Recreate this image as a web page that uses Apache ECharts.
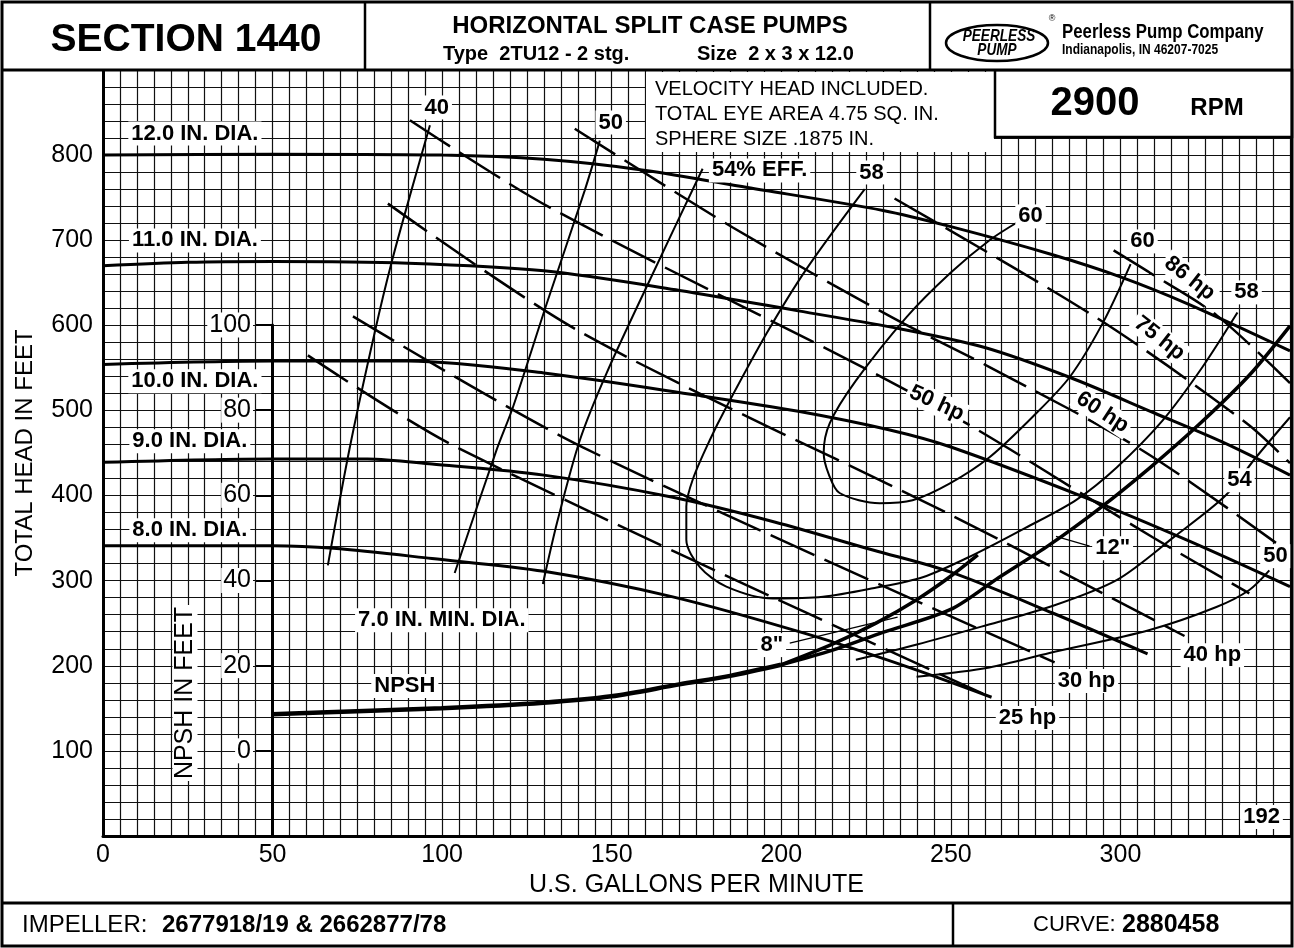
<!DOCTYPE html>
<html>
<head>
<meta charset="utf-8">
<script src="https://cdn.jsdelivr.net/npm/echarts@6/dist/echarts.min.js"></script>
<style>
  html, body { margin: 0; padding: 0; background: #fff; }
  #chart { width: 1294px; height: 948px; }
</style>
</head>
<body>
<div id="chart"></div>
<script>
const FONT = '"Liberation Sans", Arial, sans-serif'

// head-capacity curves per impeller diameter, [gpm, ft]
const dia12 = [[0, 800], [50, 801], [100, 800], [130, 795], [160, 782], [190, 762], [230, 735], [250, 716], [280, 683], [300, 657], [320, 625], [350, 570]]
const dia11 = [[0, 670], [25, 674], [50, 675], [90, 673], [130, 664], [170, 641], [205, 617], [235, 596], [260, 574], [285, 539], [310, 497], [330, 463], [350, 424]]
const dia10 = [[0, 554], [50, 558], [90, 558], [130, 544], [175, 518], [205, 499], [232, 477], [250, 457], [290, 397], [320, 347], [350, 293]]
const dia9 = [[0, 439], [50, 443], [78, 443], [97, 437], [130, 424], [168, 398], [198, 369], [227, 336], [250, 310], [280, 262], [308, 214]]
const dia8 = [[0, 341], [50, 341], [68, 338], [97, 326], [130, 311], [168, 281], [207, 238], [237, 199], [262, 163]]

// efficiency contours, [gpm, ft]
const eff40 = [[66.3, 318], [72.8, 457], [80.2, 593], [85.1, 674], [90.9, 758], [96.4, 835]]
const eff50 = [[103.7, 309], [116, 453], [120.9, 504], [130.8, 625], [142, 758], [146.5, 817]]
const eff54 = [[129.7, 296], [134, 370], [140.6, 465], [148.4, 543], [161.2, 653], [176.8, 784]]
const eff58 = [[224.6, 760], [207.4, 666], [195.6, 590], [183.8, 504], [178.9, 465], [174, 420], [172, 387], [172, 348], [176, 316], [183.8, 293], [197.5, 279], [212.3, 281], [227, 291], [241.7, 304], [256.5, 330], [272, 362], [287, 395], [298.9, 433], [312.4, 488], [324.2, 551], [334.5, 615]]
const eff60 = [[270, 722], [261.4, 700], [250, 662], [237, 610], [222, 535], [214.3, 485], [212.5, 450], [214, 425], [217.2, 403], [229, 391], [238.7, 394.5], [249.6, 414], [261.4, 445], [274, 492], [285, 539], [294.7, 602], [303, 672]]
const eff54r = [[222, 207], [240, 225], [259, 246], [279, 269], [299, 301], [316, 352], [331, 400], [340, 445], [350, 492]]
const eff50r = [[239.9, 187], [261.4, 198], [279.1, 215], [308.6, 242], [328.3, 269], [338, 289], [343.9, 312]]

// brake horsepower lines, [gpm, ft]
const hp86 = [[298, 688], [308.6, 662], [328.3, 612], [350, 532]]
const hp75 = [[233.4, 749], [293.3, 608], [337.2, 485], [350, 438]]
const hp60 = [[139.1, 831], [185.7, 715], [232.8, 609], [261.4, 551], [306.5, 453], [346, 344]]
const hp50 = [[90.5, 841], [131.7, 738.5], [245.2, 506], [309.5, 351], [338, 285]]
const hp40 = [[84, 743], [141.5, 590.6], [249.6, 378], [318.9, 235]]
const hp30 = [[73.7, 610.5], [141.5, 456.7], [280.6, 204]]
const hp25 = [[60.4, 564.7], [104.3, 456.7], [262.3, 162]]

// NPSH required, [gpm, NPSH ft]
const npsh = [[50, 8.6], [75, 9.3], [100, 10], [130, 11.3], [150, 12.8], [170, 15.6], [185, 17.6], [200, 20.2]]
const npsh8 = [[200, 20.2], [215, 25], [228, 30], [240, 35.5], [250, 41], [258, 46]]
const npsh12 = [[200, 20.2], [215, 23.6], [230, 27.8], [250, 33.2], [264, 40.6], [279, 48.3], [294, 57], [308.6, 66.4], [323, 76.5], [338, 88.2], [350, 99.8]]

// leader lines for the 8" / 12" NPSH tags, [gpm, ft]
const lead8 = [[202.5, 226.6], [234.3, 257.1]]
const lead12 = [[290.9, 340.5], [281, 352]]

const xTicks = [0, 50, 100, 150, 200, 250, 300]
const yTicks = [100, 200, 300, 400, 500, 600, 700, 800]
const npshTicks = [0, 20, 40, 60, 80, 100]

// chart tags
const annText = ['12.0 IN. DIA.', '11.0 IN. DIA.', '10.0 IN. DIA.', '9.0 IN. DIA.', '8.0 IN. DIA.', '7.0 IN. MIN. DIA.', 'NPSH',
  '40', '50', '54% EFF.', '58', '60', '60', '58', '54', '50',
  '86 hp', '75 hp', '60 hp', '50 hp', '40 hp', '30 hp', '25 hp', '12"', '8"', '192']
const annAt = [[27.1, 825.4], [27.1, 699.8], [27.1, 534.2], [25.6, 463.8], [25.6, 359.3], [99.9, 253.6], [89, 176.1],
  [98.4, 856], [149.7, 838.3], [193.6, 782], [226.6, 779.6], [273.5, 728], [306.5, 698.6], [337.2, 638.7], [335.1, 418], [345.7, 328.8],
  [320.4, 655.2], [311.5, 584.7], [294.7, 497.8], [245.8, 508.4], [327.1, 212.5], [290, 182], [272.6, 138.5], [297.7, 338.1], [197.2, 224.3], [341.6, 22.3]]
const annTurn = [0, 0, 0, 0, 0, 0, 0, 0, 0, 0, 0, 0, 0, 0, 0, 0, -38, -38, -33, -25, 0, 0, 0, 0, 0, 0]

const chart = echarts.init(document.getElementById('chart'))

const curve = (data, width, opts = {}) => ({
  type: 'line',
  data,
  xAxisIndex: opts.grid || 0,
  yAxisIndex: opts.grid || 0,
  symbol: 'none',
  smooth: opts.smooth === undefined ? 0.3 : opts.smooth,
  silent: true,
  z: opts.z || 3,
  lineStyle: { color: '#000', width, type: opts.dash ? [48, 11] : 'solid', cap: 'butt' }
})

const txt = (text, x, y, font, align = 'left', extra = {}) => ({
  type: 'text',
  x, y,
  z: 101,
  silent: true,
  style: Object.assign({
    text, font, fill: '#000',
    align, textAlign: align,
    verticalAlign: 'middle', textVerticalAlign: 'middle'
  }, extra)
})

const seg = (x1, y1, x2, y2, w) => ({
  type: 'line', z: 102, silent: true,
  shape: { x1, y1, x2, y2 },
  style: { stroke: '#000', lineWidth: w }
})

const gridLine = { show: true, lineStyle: { color: '#111', width: 1.2 } }

const option = {
  animation: false,
  backgroundColor: '#fff',
  grid: [
    { left: 103, right: 4, top: 70, bottom: 112, containLabel: false, outerBoundsMode: 'none' },
    { left: 272, right: 4, top: 325, bottom: 112, containLabel: false, outerBoundsMode: 'none' }
  ],
  xAxis: [
    {
      type: 'value', min: 0, max: 350, interval: 5,
      name: 'U.S. GALLONS PER MINUTE', nameLocation: 'middle', nameGap: 35,
      nameTextStyle: { color: '#000', fontSize: 25, fontFamily: FONT },
      axisLine: { show: true, lineStyle: { color: '#000', width: 3 } },
      axisTick: { show: false },
      axisLabel: { customValues: xTicks, color: '#000', fontSize: 25, fontFamily: FONT, margin: 7 },
      splitLine: gridLine
    },
    { type: 'value', gridIndex: 1, min: 50, max: 350, show: false }
  ],
  yAxis: [
    {
      type: 'value', min: 0, max: 900, interval: 20,
      name: 'TOTAL HEAD IN FEET', nameLocation: 'middle', nameGap: 66, nameRotate: 90,
      nameTextStyle: { color: '#000', fontSize: 24, fontFamily: FONT },
      axisLine: { show: true, lineStyle: { color: '#000', width: 3 } },
      axisTick: { show: false },
      axisLabel: { customValues: yTicks, color: '#000', fontSize: 25, fontFamily: FONT, margin: 10 },
      splitLine: gridLine
    },
    {
      type: 'value', gridIndex: 1, min: -20, max: 100, interval: 20,
      axisLine: { show: true, lineStyle: { color: '#000', width: 3 } },
      axisTick: { show: true, customValues: npshTicks, length: 16, lineStyle: { color: '#000', width: 2 } },
      axisLabel: {
        customValues: npshTicks, color: '#000', fontSize: 25, fontFamily: FONT, margin: 19,
        backgroundColor: '#fff', padding: [0, 2]
      },
      splitLine: { show: false }
    }
  ],
  series: [
    curve(dia12, 3), curve(dia11, 3), curve(dia10, 3), curve(dia9, 3), curve(dia8, 3),
    curve(eff40, 2), curve(eff50, 2), curve(eff54, 2), curve(eff58, 2), curve(eff60, 2),
    curve(eff54r, 2), curve(eff50r, 2),
    curve(hp86, 2.5, { dash: true }), curve(hp75, 2.5, { dash: true }), curve(hp60, 2.5, { dash: true }),
    curve(hp50, 2.5, { dash: true }), curve(hp40, 2.5, { dash: true }), curve(hp30, 2.5, { dash: true }),
    curve(hp25, 2.5, { dash: true }),
    curve(npsh, 4.5, { grid: 1 }), curve(npsh8, 3.5, { grid: 1 }), curve(npsh12, 3.5, { grid: 1 }),
    curve(lead8, 1.2, { smooth: false }), curve(lead12, 1.2, { smooth: false }),
    {
      type: 'scatter',
      silent: true,
      z: 10,
      symbolSize: 1,
      itemStyle: { color: '#fff', opacity: 1 },
      label: {
        show: true, position: 'inside', color: '#000', opacity: 1,
        textBorderWidth: 0,
        fontSize: 22, fontWeight: 'bold', fontFamily: FONT,
        backgroundColor: '#fff', padding: [1, 3]
      },
      data: annText.map((t, i) => ({ value: annAt[i], label: { formatter: t, rotate: annTurn[i] } }))
    }
  ],
  graphic: [
    // info box and rpm box over the grid
    { type: 'rect', z: 100, silent: true, shape: { x: 646, y: 72, width: 348, height: 80 }, style: { fill: '#fff' } },
    { type: 'rect', z: 100, silent: true, shape: { x: 995, y: 70, width: 297, height: 67 }, style: { fill: '#fff', stroke: '#000', lineWidth: 2.5 } },
    txt('VELOCITY HEAD INCLUDED.', 655, 89, '20px ' + FONT),
    txt('TOTAL EYE AREA 4.75 SQ. IN.', 655, 114, '20px ' + FONT),
    txt('SPHERE SIZE .1875 IN.', 655, 139, '20px ' + FONT),
    txt('2900', 1095, 104, 'bold 40px ' + FONT, 'center'),
    txt('RPM', 1217, 108, 'bold 24px ' + FONT, 'center'),
    // header
    { type: 'rect', z: 100, silent: true, shape: { x: 2, y: 2, width: 1290, height: 68 }, style: { fill: '#fff' } },
    txt('SECTION 1440', 186, 40, 'bold 39px ' + FONT, 'center'),
    txt('HORIZONTAL SPLIT CASE PUMPS', 650, 26, 'bold 24px ' + FONT, 'center'),
    txt('Type  2TU12 - 2 stg.', 443, 54, 'bold 20px ' + FONT),
    txt('Size  2 x 3 x 12.0', 697, 54, 'bold 20px ' + FONT),
    { type: 'ellipse', z: 101, silent: true, shape: { cx: 997, cy: 43, rx: 51, ry: 18 }, style: { fill: '#fff', stroke: '#000', lineWidth: 2.5 } },
    Object.assign(txt('PEERLESS', 999, 36, 'italic bold 17px ' + FONT, 'center'), { scaleX: 0.8 }),
    Object.assign(txt('PUMP', 997, 50, 'italic bold 17px ' + FONT, 'center'), { scaleX: 0.8 }),
    txt('®', 1052, 19, '9px ' + FONT, 'center'),
    Object.assign(txt('Peerless Pump Company', 1062, 32, 'bold 21px ' + FONT), { scaleX: 0.8 }),
    Object.assign(txt('Indianapolis, IN 46207-7025', 1062, 50, 'bold 15px ' + FONT), { scaleX: 0.8 }),
    // footer
    txt('IMPELLER:', 22, 925, '24px ' + FONT),
    txt('2677918/19 & 2662877/78', 162, 925, 'bold 24px ' + FONT),
    txt('CURVE:', 1033, 925, '22px ' + FONT),
    txt('2880458', 1122, 925, 'bold 25px ' + FONT),
    // NPSH axis title
    Object.assign(txt('NPSH IN FEET', 185, 693, '25px ' + FONT, 'center', { backgroundColor: '#fff', padding: [0, 2] }), { rotation: Math.PI / 2 }),
    // frame
    seg(2, 70, 1292, 70, 3),
    seg(365, 2, 365, 70, 2.5),
    seg(930, 2, 930, 70, 2.5),
    seg(2, 903, 1292, 903, 3),
    seg(953, 903, 953, 946, 2.5),
    { type: 'rect', z: 102, silent: true, shape: { x: 2, y: 2, width: 1290, height: 944 }, style: { fill: null, stroke: '#000', lineWidth: 3 } }
  ]
}

chart.setOption(option)
</script>
</body>
</html>
